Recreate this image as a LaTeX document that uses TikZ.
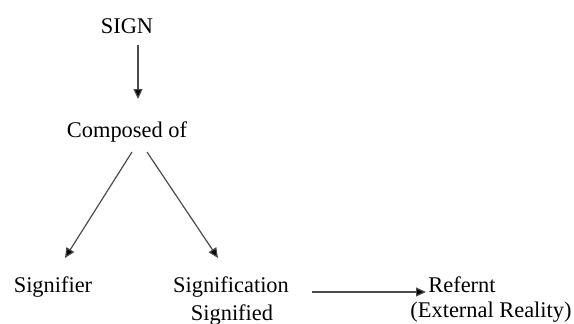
\documentclass[tikz,border=0pt]{standalone}
\usepackage{fontspec}
\setmainfont{Liberation Serif}
\usetikzlibrary{arrows.meta}
\begin{document}
\begin{tikzpicture}[x=1pt,y=-1pt,
  lbl/.style={font=\fontsize{22.4}{26}\selectfont, inner sep=0pt, anchor=base, align=center},
  conn/.style={draw=black!70, line width=1.2pt, -{Triangle[length=10pt,width=9pt,fill=black]}}]
\useasboundingbox (0,0) rectangle (574,324);
\node[lbl] (sign) at (127,33) {SIGN};
\node[lbl] (comp) at (127,137) {Composed of};
\node[lbl] (sfr) at (53,292) {Signifier};
\node[lbl] (sfn) at (231,292) {Signification};
\node[lbl] (sfd) at (232,320) {Signified};
\node[lbl] (ref) at (462,292) {Refernt};
\node[lbl] (ext) at (491,317) {(External Reality)};
\coordinate (a1s) at (138,45);
\coordinate (a1e) at (138,99);
\draw[conn] (a1s) -- (a1e);
\coordinate (l1) at (132,152);
\coordinate (l2) at (65,258);
\draw[conn] (l1) -- (l2);
\coordinate (r1) at (147,152);
\coordinate (r2) at (218,258);
\draw[conn] (r1) -- (r2);
\coordinate (h1) at (312,292);
\coordinate (h2) at (426,292);
\draw[conn] (h1) -- (h2);
\end{tikzpicture}
\end{document}
